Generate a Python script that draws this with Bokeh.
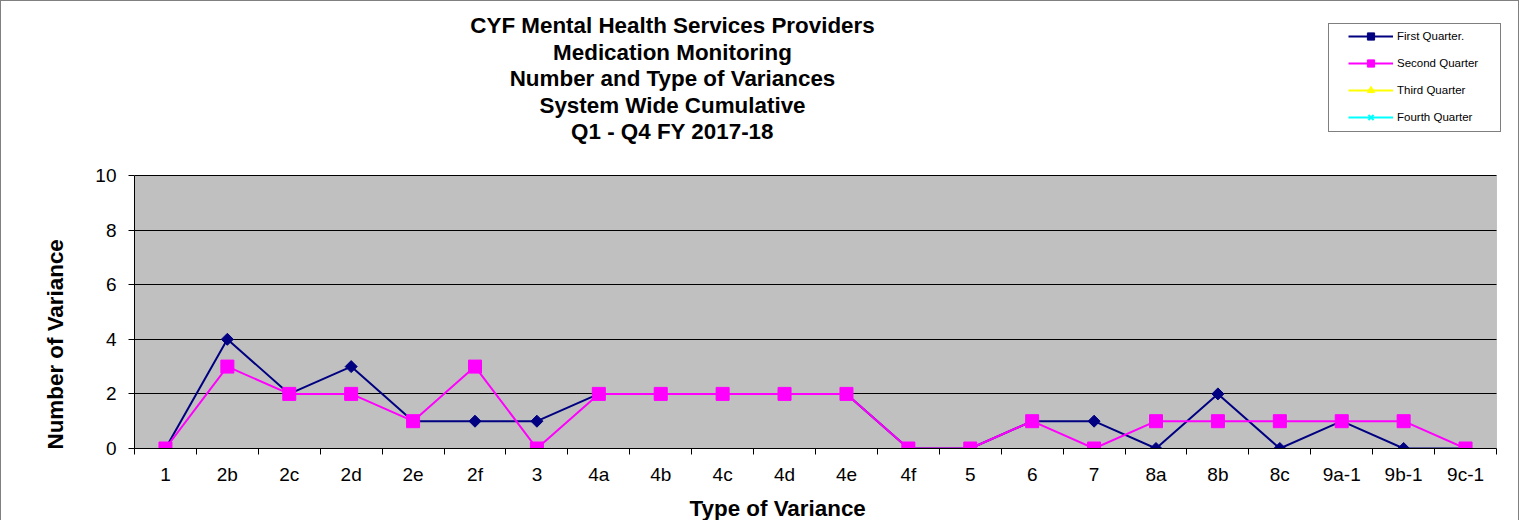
import math
from bokeh.plotting import figure
from bokeh.models import (Label, Legend, LegendItem, FixedTicker, Range1d, BoxAnnotation,
                          Title)
from bokeh.embed import file_html
from bokeh.resources import INLINE

NA = float("nan")  # no value reported

categories = ["1", "2b", "2c", "2d", "2e", "2f", "3", "4a", "4b", "4c", "4d", "4e",
              "4f", "5", "6", "7", "8a", "8b", "8c", "9a-1", "9b-1", "9c-1"]
q1 = [0, 4, 2, 3, 1, 1, 1, 2, 2, 2, 2, 2, 0, 0, 1, 1, 0, 2, 0, 1, 0, 0]
q2 = [0, 3, 2, 2, 1, 3, 0, 2, 2, 2, 2, 2, 0, 0, 1, 0, 1, 1, 1, 1, 1, 0]
# no values reported yet for the third and fourth quarters
q3 = [NA, NA, NA, NA, NA, NA, NA, NA, NA, NA, NA,
      NA, NA, NA, NA, NA, NA, NA, NA, NA, NA, NA]
q4 = [NA, NA, NA, NA, NA, NA, NA, NA, NA, NA, NA,
      NA, NA, NA, NA, NA, NA, NA, NA, NA, NA, NA]
y_ticks = [0, 2, 4, 6, 8, 10]
series_names = ["First Quarter.", "Second Quarter", "Third Quarter", "Fourth Quarter"]
title_lines = ["CYF Mental Health Services Providers",
               "Medication Monitoring",
               "Number and Type of Variances",
               "System Wide Cumulative",
               "Q1 - Q4 FY 2017-18"]
x_title = "Type of Variance"
y_title = "Number of Variance"

FONT = "Liberation Sans"
n = len(categories)
xpos = list(range(1, n + 1))

# layout (pixels)
W, H = 1519, 520
LEFT, BOTTOM = 133, 73          # plot area left edge / space below plot area
AREA_W, AREA_H = 1362, 273      # size of the grey plot area
frame_w = W - LEFT
frame_h = H - BOTTOM
x0, x1 = 0.5, n + 0.5
y0, y1 = y_ticks[0], y_ticks[-1]
x_end = x0 + (x1 - x0) * frame_w / AREA_W
y_end = y0 + (y1 - y0) * frame_h / AREA_H

p = figure(width=W, height=H, output_backend="svg", toolbar_location=None,
           x_range=Range1d(x0, x_end), y_range=Range1d(y0, y_end),
           min_border_left=LEFT, min_border_right=0, min_border_top=0,
           min_border_bottom=BOTTOM)
p.title.visible = False
p.styles = {"border-left": "1px solid #808080", "border-top": "1px solid #808080",
            "border-right": "1px solid #808080"}
p.background_fill_color = "white"
p.border_fill_color = "white"
p.outline_line_color = None

area = BoxAnnotation(left=x0, right=x1, bottom=y0, top=y1, fill_color="#C0C0C0",
                     fill_alpha=1, line_color="#808080", line_width=1, level="image")
p.add_layout(area)

p.xgrid.visible = False
p.ygrid.ticker = FixedTicker(ticks=y_ticks)
p.ygrid.grid_line_color = "black"
p.ygrid.grid_line_width = 1
try:
    p.ygrid.cross_bounds = (x0, x1)
except Exception:
    pass

p.yaxis.ticker = FixedTicker(ticks=y_ticks)
p.yaxis.bounds = (y0, y1)
p.yaxis.axis_line_color = "black"
p.yaxis.major_tick_in = 0
p.yaxis.major_tick_out = 6
p.yaxis.minor_tick_line_color = None
p.yaxis.major_label_text_font = FONT
p.yaxis.major_label_text_font_size = "19px"
p.yaxis.major_label_text_color = "black"
p.yaxis.major_label_standoff = 12

p.xaxis.ticker = FixedTicker(ticks=xpos, minor_ticks=[i + 0.5 for i in range(0, n + 1)])
p.xaxis.bounds = (x0, x1)
p.xaxis.major_label_overrides = {i: c for i, c in zip(xpos, categories)}
p.xaxis.axis_line_color = "black"
p.xaxis.major_tick_in = 0
p.xaxis.major_tick_out = 0
p.xaxis.minor_tick_in = 0
p.xaxis.minor_tick_out = 6
p.xaxis.minor_tick_line_color = "black"
p.xaxis.major_label_text_font = FONT
p.xaxis.major_label_text_font_size = "19px"
p.xaxis.major_label_text_color = "black"
p.xaxis.major_label_standoff = 9
# small spacer between tick labels and the axis title
p.xaxis.axis_label = " "
p.xaxis.axis_label_text_font_size = "1px"
p.xaxis.axis_label_standoff = 2

# series
l1 = p.line(xpos, q1, line_color="#000080", line_width=2)
m1 = p.scatter(xpos, q1, marker="square", angle=math.pi / 4, size=8.5,
               fill_color="#000080", line_color="#000080")
l2 = p.line(xpos, q2, line_color="#FF00FF", line_width=2)
m2 = p.scatter(xpos, q2, marker="square", size=13, fill_color="#FF00FF", line_color="#FF00FF")
l3 = p.line(xpos, q3, line_color="#FFFF00", line_width=2)
m3 = p.scatter(xpos, q3, marker="triangle", size=10, fill_color="#FFFF00", line_color="#FFFF00")
l4 = p.line(xpos, q4, line_color="#00FFFF", line_width=2)
m4 = p.scatter(xpos, q4, marker="x", size=9, line_color="#00FFFF", line_width=2)

# legend frame (box only)
dummy = p.scatter([], [], alpha=0)
box = Legend(items=[LegendItem(label=" ", renderers=[dummy])], location=(1194, 316),
             padding=0, margin=0, spacing=0, glyph_width=10, glyph_height=107,
             label_width=161, label_height=107, label_standoff=0,
             border_line_color="black", border_line_width=1,
             background_fill_color="white", background_fill_alpha=1)
p.add_layout(box, "center")

legend = Legend(items=[LegendItem(label=series_names[0], renderers=[l1, m1]),
                       LegendItem(label=series_names[1], renderers=[l2, m2]),
                       LegendItem(label=series_names[2], renderers=[l3, m3]),
                       LegendItem(label=series_names[3], renderers=[l4, m4])],
                location=(1214, 322), padding=0, margin=0, spacing=9,
                glyph_width=45, glyph_height=18, label_height=18, label_standoff=4,
                label_text_font=FONT, label_text_font_size="11.5px",
                label_text_color="black",
                border_line_color=None, background_fill_alpha=0)
p.add_layout(legend, "center")

# chart title lines
for i, t in enumerate(title_lines):
    p.add_layout(Label(x=538, y=423 - i * 26.6, x_units="screen", y_units="screen",
                       text=t, text_align="center", text_baseline="middle",
                       text_font=FONT, text_font_size="22.4px", text_font_style="bold",
                       text_color="black"))

# axis titles
p.add_layout(Title(text=x_title, align="left", offset=555, standoff=0,
                   vertical_align="bottom",
                   text_font=FONT, text_font_size="22.4px", text_font_style="bold",
                   text_color="black"), "below")
p.add_layout(Title(text=y_title, align="left", offset=-1, standoff=49,
                   text_font=FONT, text_font_size="22.4px", text_font_style="bold",
                   text_color="black"), "left")

open("out.html", "w").write(file_html(p, INLINE))
